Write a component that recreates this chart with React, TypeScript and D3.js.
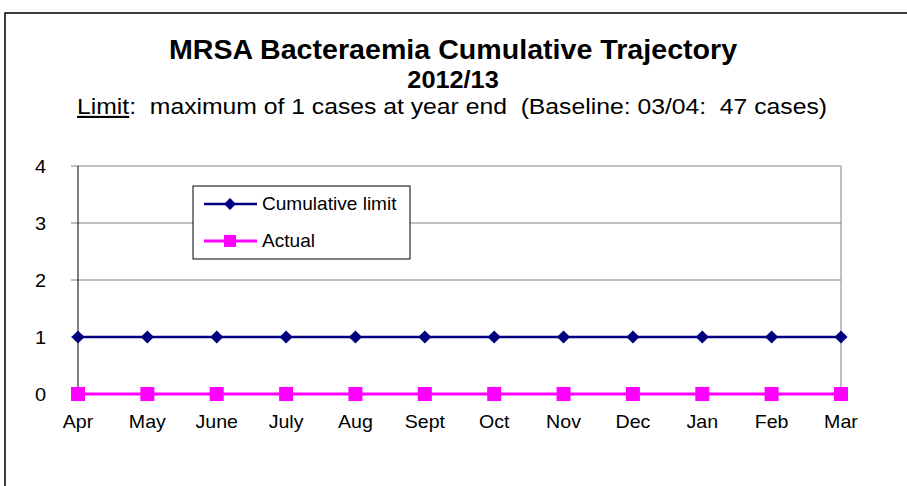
import React from "react";
import * as d3 from "d3";

const months = ["Apr","May","June","July","Aug","Sept","Oct","Nov","Dec","Jan","Feb","Mar"];
const cumulativeLimit = [1,1,1,1,1,1,1,1,1,1,1,1];
const actual = [0,0,0,0,0,0,0,0,0,0,0,0];
const yTicks = [0,1,2,3,4];

const SX = 1.1;

function T(props: { x: number; y: number; size: number; anchor?: string; bold?: boolean; sx?: number; children: React.ReactNode }) {
  const { x, y, size, anchor = "start", bold = false, sx = SX, children } = props;
  return (
    <text transform={`translate(${x},${y}) scale(${sx},1)`} textAnchor={anchor} fontSize={size} fontWeight={bold ? "bold" : "normal"}>
      {children}
    </text>
  );
}

export default function App() {
  const W = 907, H = 486;
  const left = 78, right = 841, top = 166, bottom = 394;
  const x = d3.scalePoint<string>().domain(months).range([left, right]);
  const y = d3.scaleLinear().domain([0, 4]).range([bottom, top]);
  const line = d3.line<number>().x((_, i) => x(months[i])!).y(d => y(d));
  const font = "Arial, 'Liberation Sans', sans-serif";
  const diamond = d3.symbol().type(d3.symbolDiamond2).size(110)();
  return (
    <svg width={W} height={H} style={{ position: "absolute", left: 0, top: 0 }} fontFamily={font}>
      <rect x={0} y={0} width={W} height={H} fill="#fff" />
      <rect x={5} y={13} width={W + 10} height={H + 10} fill="none" stroke="#000" strokeWidth={1.5} />
      <T x={453} y={59} size={27} bold anchor="middle" sx={1.06}>MRSA Bacteraemia Cumulative Trajectory</T>
      <T x={453} y={88} size={23} bold anchor="middle" sx={1.1}>2012/13</T>
      <T x={452} y={114} size={21.5} anchor="middle" sx={1.15}>
        <tspan textDecoration="underline">Limit</tspan>
        <tspan>{":\u00a0 maximum of 1 cases at year end\u00a0 (Baseline: 03/04:\u00a0 47 cases)"}</tspan>
      </T>
      {yTicks.map(t => (
        <g key={t}>
          <line x1={left - 7} x2={right} y1={y(t)} y2={y(t)} stroke={t === 0 ? "#000" : "#808080"} strokeWidth={1} />
          <T x={46} y={y(t) + 7} size={19} anchor="end" sx={1.05}>{t}</T>
        </g>
      ))}
      <line x1={left} x2={left} y1={top} y2={bottom} stroke="#000" strokeWidth={1} />
      <line x1={right} x2={right} y1={top} y2={bottom} stroke="#808080" strokeWidth={1} />
      {months.map(m => (
        <T key={m} x={x(m)!} y={428} size={18.5} anchor="middle" sx={1.06}>{m}</T>
      ))}
      <path d={line(cumulativeLimit)!} fill="none" stroke="#000080" strokeWidth={2.5} />
      {cumulativeLimit.map((v, i) => (
        <path key={i} d={diamond!} transform={`translate(${x(months[i])},${y(v)})`} fill="#000080" />
      ))}
      <path d={line(actual)!} fill="none" stroke="#FF00FF" strokeWidth={3} />
      {actual.map((v, i) => (
        <rect key={i} x={x(months[i])! - 7} y={y(v) - 7} width={14} height={14} fill="#FF00FF" />
      ))}
      <g>
        <rect x={193} y={186} width={217} height={73} fill="#fff" stroke="#000" strokeWidth={1} />
        <line x1={204} x2={257} y1={204} y2={204} stroke="#000080" strokeWidth={2.5} />
        <path d={d3.symbol().type(d3.symbolDiamond2).size(90)()!} transform="translate(230,204)" fill="#000080" />
        <T x={262} y={210} size={18} sx={1.06}>Cumulative limit</T>
        <line x1={204} x2={257} y1={241} y2={241} stroke="#FF00FF" strokeWidth={3} />
        <rect x={224} y={235} width={12} height={12} fill="#FF00FF" />
        <T x={262} y={247} size={18} sx={1.06}>Actual</T>
      </g>
    </svg>
  );
}
